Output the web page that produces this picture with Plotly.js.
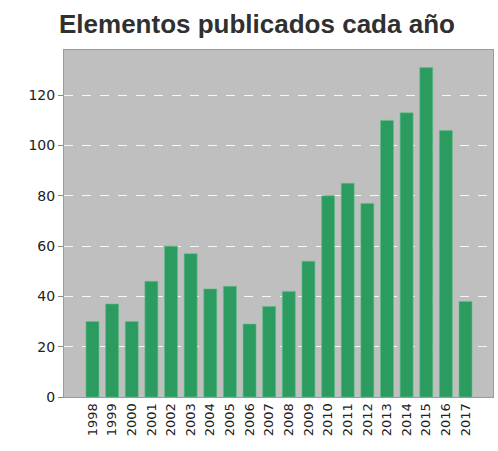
<!DOCTYPE html>
<html>
<head>
<meta charset="utf-8">
<script src="https://cdn.plot.ly/plotly-3.0.1.min.js"></script>
<style>
html,body{margin:0;padding:0;background:#ffffff;}
#chart{width:498px;height:451px;}
</style>
</head>
<body>
<div id="chart"></div>
<script>
const years = ["1998","1999","2000","2001","2002","2003","2004","2005","2006","2007",
               "2008","2009","2010","2011","2012","2013","2014","2015","2016","2017"];
const counts = [30, 37, 30, 46, 60, 57, 43, 44, 29, 36,
                42, 54, 80, 85, 77, 110, 113, 131, 106, 38];
const yTicks = [0, 20, 40, 60, 80, 100, 120];

const trace = {
  type: "bar",
  x: years,
  y: counts,
  width: 0.66,
  marker: {color: "#2b9b60", line: {color: "#5fbf88", width: 0.6}},
  hoverinfo: "x+y"
};

const layout = {
  width: 498,
  height: 451,
  margin: {l: 64, r: 5, t: 50, b: 54},
  paper_bgcolor: "#ffffff",
  plot_bgcolor: "#bfbfbf",
  title: {
    text: "<b>Elementos publicados cada año</b>",
    font: {family: "Liberation Sans, Arial, sans-serif", size: 26, color: "#303030"},
    x: 0.516, xanchor: "center",
    y: 0.947, yanchor: "middle"
  },
  xaxis: {
    type: "category",
    range: [-1.45, 20.4],
    tickangle: -90,
    tickfont: {family: "DejaVu Sans, sans-serif", size: 13, color: "#222222"},
    showgrid: false,
    ticks: "",
    showline: true,
    linecolor: "#9a9a9a",
    linewidth: 1,
    mirror: true,
    fixedrange: true
  },
  yaxis: {
    range: [0, 138],
    tickvals: yTicks,
    ticktext: yTicks.map(String),
    tickfont: {family: "DejaVu Sans, sans-serif", size: 14, color: "#222222"},
    ticks: "outside",
    ticklen: 5,
    tickcolor: "#888888",
    showgrid: true,
    gridcolor: "rgba(255,255,255,0.85)",
    griddash: "dash",
    gridwidth: 1,
    zeroline: false,
    showline: true,
    linecolor: "#9a9a9a",
    linewidth: 1,
    mirror: true,
    fixedrange: true
  },
  showlegend: false,
  bargap: 0.34
};

Plotly.newPlot("chart", [trace], layout, {displayModeBar: false, staticPlot: true});
</script>
</body>
</html>
